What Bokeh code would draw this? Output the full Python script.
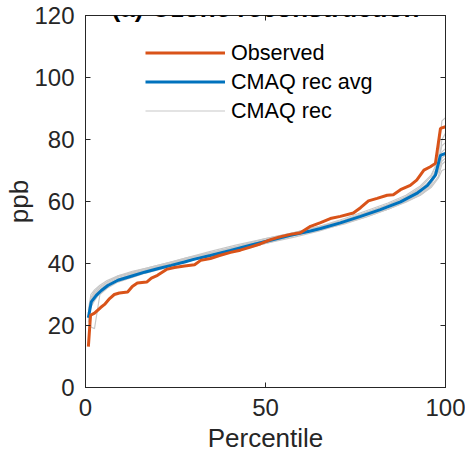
from bokeh.plotting import figure
from bokeh.models import Range1d, LinearAxis, FixedTicker, Legend, LegendItem, Label
from bokeh.embed import file_html
from bokeh.resources import INLINE

# ---------------- data ----------------
obs_pct = [0.8, 1.4, 2.5, 4.2, 5.3, 6.7, 8, 9.4, 11.7, 13, 14.4, 17, 18.3, 20, 22.5,
           24.7, 27.5, 30.3, 32, 34.7, 37, 40.3, 43, 45.8, 48.5, 51.4, 54, 56.9, 59.7,
           62.5, 65.3, 68, 70.8, 74.4, 76.4, 78.6, 81, 83.8, 85.5, 87.5, 90.2, 92, 94,
           95.8, 97.2, 98.6, 100]
obs_val = [13.2, 23.3, 24, 25.8, 26.8, 28.7, 30, 30.5, 30.8, 32.6, 33.7, 34, 35.3, 36.2, 38.1,
           38.7, 39.2, 39.6, 41, 41.6, 42.5, 43.6, 44.3, 45.3, 46.3, 47.7, 48.6, 49.4, 49.9,
           52, 53.2, 54.5, 55.2, 56.3, 58, 60.2, 61, 62, 62.2, 63.8, 65.2, 66.9, 70.1,
           71.2, 72.3, 83.6, 84.1]

avg_pct = [0.8, 1.6, 3, 4.4, 6.2, 9, 12.7, 16.4, 20, 23.8, 27.5, 30.3, 34.7, 40.3, 45.8,
           51.4, 56.9, 62.5, 65.3, 70.8, 76.4, 81.9, 87.5, 92, 95, 97.2, 98.6, 100]
avg_val = [22.5, 27.6, 29.7, 31.3, 32.9, 34.6, 35.9, 37.2, 38.3, 39.4, 40.5, 41.4, 42.6, 44.2, 45.9,
           47.5, 49.1, 50.5, 51.3, 53.1, 55.2, 57.4, 59.9, 62.6, 65.2, 68.5, 74.9, 75.5]

rec_pct = [0.8, 1.5, 2.5, 4, 6, 9, 13, 17, 22, 28, 35, 42, 50, 58, 65, 72, 78, 84, 89,
           93, 96, 98, 99, 100]
rec_1 = [24, 29, 31, 32.5, 34, 36, 37.5, 38.5, 40, 41.5, 43.5, 45.5, 47.5, 49.5, 51, 53,
         55.5, 57.5, 60, 62.5, 65.5, 70, 80, 82]
rec_2 = [23, 26, 28, 30.5, 32.5, 34.5, 36, 37.5, 39, 41, 43, 45, 47.5, 50, 52, 54,
         56.5, 59, 61.5, 64, 67, 72, 76, 77]
rec_3 = [25, 30, 31.5, 33, 34.5, 36, 37, 38, 39.5, 41, 42.5, 44.5, 46.5, 48.5, 50.5, 53,
         55, 57.5, 60, 62, 65, 68, 72, 73]
rec_4 = [23, 19.5, 19, 30, 32, 34, 35.5, 37, 38.5, 40.5, 42.5, 44.5, 47, 49.5, 51.5, 54,
         56.5, 59, 61.5, 64.5, 68, 74, 86, 87]
rec_5 = [21, 26.5, 29.5, 31.5, 33.5, 35.5, 36.8, 38, 39.5, 41.5, 43.5, 45.5, 48, 50, 51.8, 54,
         56, 58.5, 61, 63.5, 66.5, 70, 74, 75]
rec_6 = [24, 28.5, 30, 31.5, 33, 35, 36.5, 38, 39.5, 41, 42.5, 44, 46.5, 49, 50.8, 52.8,
         55, 57.5, 59.8, 62, 64.5, 67.5, 70, 70.5]
rec_7 = [22.5, 27, 29, 31, 33, 35, 36.5, 38, 39.8, 41.8, 44, 46, 48, 50, 52, 54.5,
         57, 59.5, 62, 65, 68.5, 73, 78, 79]
rec_8 = [23.5, 28, 30.5, 32, 34, 35.8, 37.2, 38.5, 40, 41.8, 43.5, 45.2, 47.3, 49.5, 51.3, 53.3,
         55.5, 58, 60.3, 63, 66, 69.5, 73, 74]
rec_series = [rec_1, rec_2, rec_3, rec_4, rec_5, rec_6, rec_7, rec_8]

x_ticks = [0, 50, 100]
y_ticks = [0, 20, 40, 60, 80, 100, 120]

title_text = "(a) Ozone reconstruction"
x_label = "Percentile"
y_label = "ppb"
legend_labels = ["Observed", "CMAQ rec avg", "CMAQ rec"]

# ---------------- styling ----------------
FONT = "Liberation Sans"
AX = "#262626"
RED = "#D95319"
BLUE = "#0072BD"
GRAY = "#C8C8C8"

p = figure(width=465, height=458, output_backend="svg", toolbar_location=None,
           x_range=Range1d(0, 100), y_range=Range1d(0, 120),
           min_border_left=85, min_border_right=20, min_border_top=15, min_border_bottom=71)
p.grid.visible = False
p.outline_line_color = AX
p.outline_line_width = 1
p.background_fill_color = "white"
p.border_fill_color = "white"

def style_axis(ax, ticks, show_labels):
    ax.ticker = FixedTicker(ticks=ticks)
    ax.major_tick_in = 5
    ax.major_tick_out = 0
    ax.minor_tick_line_color = None
    ax.axis_line_color = AX
    ax.major_tick_line_color = AX
    ax.major_label_text_font = FONT
    if show_labels:
        ax.major_label_text_font_size = "24px"
        ax.major_label_text_color = AX
        ax.major_label_standoff = 11
    else:
        ax.major_label_text_font_size = "1px"
        ax.major_label_text_color = None
        ax.major_label_standoff = 0

style_axis(p.xaxis[0], x_ticks, True)
style_axis(p.yaxis[0], y_ticks, True)

for ax, lbl in ((p.xaxis[0], x_label), (p.yaxis[0], y_label)):
    ax.axis_label = lbl
    ax.axis_label_text_font = FONT
    ax.axis_label_text_font_size = "26px"
    ax.axis_label_text_font_style = "normal"
    ax.axis_label_text_color = AX
p.xaxis.axis_label_standoff = 4
p.yaxis.axis_label_standoff = -3

top_ax = LinearAxis()
style_axis(top_ax, x_ticks, False)
p.add_layout(top_ax, "above")
right_ax = LinearAxis()
style_axis(right_ax, y_ticks, False)
p.add_layout(right_ax, "right")

# ---------------- glyphs ----------------
rec_renderers = []
for s in rec_series:
    r = p.line(rec_pct, s, line_color=GRAY, line_width=1.2)
    rec_renderers.append(r)
r_avg = p.line(avg_pct, avg_val, line_color=BLUE, line_width=3)
r_obs = p.line(obs_pct, obs_val, line_color=RED, line_width=3)

legend = Legend(items=[LegendItem(label=legend_labels[0], renderers=[r_obs]),
                       LegendItem(label=legend_labels[1], renderers=[r_avg]),
                       LegendItem(label=legend_labels[2], renderers=[rec_renderers[0]])],
                location=(60, 262), padding=0, margin=0, spacing=0,
                glyph_width=80, glyph_height=29, label_height=29, label_standoff=6,
                label_text_font=FONT, label_text_font_size="21.6px", label_text_color="black",
                border_line_alpha=0, background_fill_alpha=0)
p.add_layout(legend, "center")

# title: only its lower part shows at the very top, as in the reference
p.add_layout(Label(x=50, y=122.5, text=title_text, text_align="center",
                   text_baseline="alphabetic", text_font=FONT, text_font_size="26px",
                   text_font_style="bold", text_color="black"))

open("out.html", "w").write(file_html(p, INLINE))
